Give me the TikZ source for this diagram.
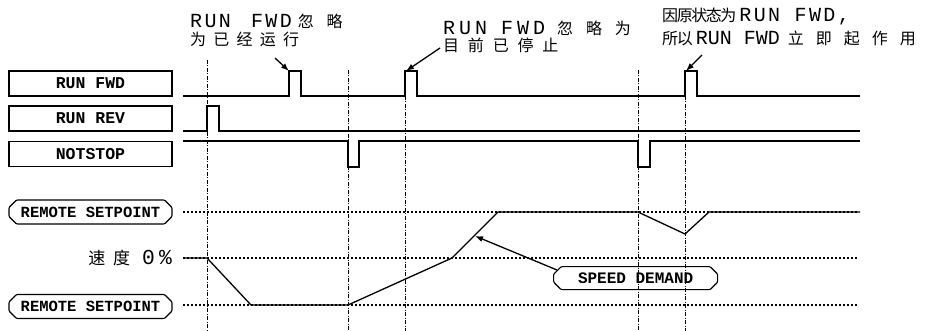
\documentclass[tikz,border=0pt]{standalone}
\usepackage{fontspec}
\setmainfont{Liberation Mono}
\newfontfamily\boxfont{Liberation Mono Bold}
\newfontfamily\cjk{Noto Sans CJK SC}
\newfontfamily\cjkwide[LetterSpace=45]{Noto Sans CJK SC}
\newfontfamily\cjkwider[LetterSpace=80]{Noto Sans CJK SC}
\newfontfamily\lat[Scale=1.25]{Liberation Mono}
\newfontfamily\latwide[Scale=1.25,LetterSpace=12]{Liberation Mono}
\newfontfamily\latwider[Scale=1.25,LetterSpace=20]{Liberation Mono}
\usetikzlibrary{arrows.meta,positioning,shapes.misc}

\tikzset{
  sigbox/.style={draw,line width=1.1pt,minimum width=163pt,minimum height=25pt,
    inner sep=0pt,font=\boxfont\fontsize{16.5}{16.5}\selectfont},
  setbox/.style={sigbox,chamfered rectangle,chamfered rectangle xsep=4pt,
    minimum height=24pt,rounded corners=1pt,font=\boxfont\fontsize{15.5}{15.5}\selectfont},
  signal/.style={line width=1.3pt},
  levelline/.style={line width=1.2pt,dash pattern=on 1.5pt off 2.5pt},
  marker/.style={line width=0.9pt,dash pattern=on 4pt off 1.5pt on 1pt off 1.5pt},
  note/.style={anchor=base west,inner sep=0pt,font=\fontsize{16}{16}\selectfont},
  pointer/.style={line width=1.3pt,-{Latex[length=8pt,width=6pt]}}
}

\begin{document}
\begin{tikzpicture}[x=1pt,y=-1pt]
  \useasboundingbox (0,0) rectangle (926,331);

  % signal names
  \node[sigbox] (fwd) at (90.5,83.5) {RUN FWD};
  \node[sigbox] (rev) at (90.5,118.5) {RUN REV};
  \node[sigbox] (nstop) at (90.5,154) {NOTSTOP};
  \node[setbox] (sethi) at (90.5,212) {REMOTE SETPOINT};
  \node[setbox] (setlo) at (90.5,306.5) {REMOTE SETPOINT};
  \node[anchor=base east,inner sep=0pt,font=\fontsize{17}{17}\selectfont] (zero) at (172,264)
    {\cjkwide 速度\hspace{12pt}\latwider 0\%};

  % reference levels and event markers
  \foreach \y in {212,258,305}
    \draw[levelline] (183,\y) -- (857,\y);
  \foreach \x/\t in {207/60,348/70,405/96,638/70,685/96}
    \draw[marker] (\x,\t) -- (\x,331);

  % waveforms
  \draw[signal] (183,96) -| (289,71) -| (301,96) -| (405,71) -| (417,96)
    -| (685,71) -| (697,96) -- (860,96);
  \draw[signal] (183,131) -| (207,106) -| (219,131) -- (860,131);
  \draw[signal] (183,141) -| (348,167) -| (359,141) -| (638,167) -| (650,141) -- (860,141);
  \draw[signal] (183,258) -- (207,258) -- (251,305) -- (348,305) -- (452,258)
    -- (498,212) -- (638,212) -- (685,234) -- (709,212) -- (860,212);

  \node[setbox,minimum width=164pt,minimum height=23pt,anchor=north west,
    font=\boxfont\fontsize{16}{16}\selectfont] (demand) at (557,270) {SPEED DEMAND};

  % notes
  \node[note] (note1a) at (190,28) {\latwide RUN\hspace{20pt}FWD\hspace{6pt}\cjkwider 忽略};
  \node[note] (note1b) at (190,46) {\cjkwide 为已经运行};
  \node[note] (note2a) at (443,35) {\latwider RUN\hspace{14pt}FWD\hspace{12pt}\cjkwider 忽略为};
  \node[note] (note2b) at (443,52) {\cjkwide\addfontfeature{LetterSpace=55} 目前已停止};
  \node[note] (note3a) at (662,22) {\cjk\addfontfeature{LetterSpace=-9} 因原状态为\hspace{3pt}\latwide RUN FWD,};
  \node[note] (note3b) at (662,45) {\cjk\addfontfeature{LetterSpace=-8} 所以\hspace{3pt}\lat RUN FWD\hspace{8pt}\cjkwide\addfontfeature{LetterSpace=75} 立即起作用};

  \coordinate (tip1) at (289,71);
  \coordinate (tip2) at (406,71);
  \coordinate (tip3) at (686,71);
  \coordinate (tip4) at (475,236);
  \coordinate (tail1) at (275,58);
  \coordinate (tail2) at (440,48);
  \coordinate (tail3) at (702,55);
  \draw[pointer] (tail1) -- (tip1);
  \draw[pointer] (tail2) -- (tip2);
  \draw[pointer] (tail3) -- (tip3);
  \draw[pointer] (demand.north west) -- (tip4);
\end{tikzpicture}
\end{document}
